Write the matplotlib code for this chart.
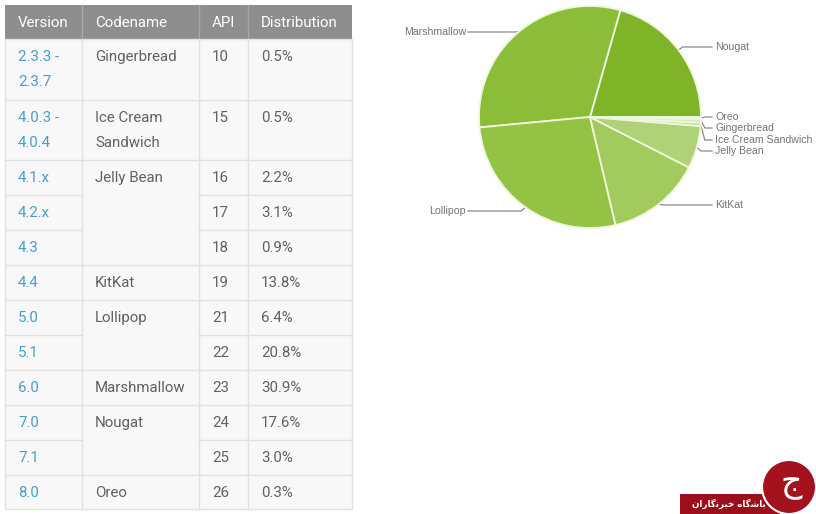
import matplotlib.pyplot as plt
from matplotlib.patches import Rectangle, Circle
import numpy as np

# table data
versions = ['2.3.3 -\n2.3.7', '4.0.3 -\n4.0.4', '4.1.x', '4.2.x', '4.3', '4.4',
            '5.0', '5.1', '6.0', '7.0', '7.1', '8.0']
codenames = ['Gingerbread', 'Ice Cream\nSandwich', 'Jelly Bean', '', '', 'KitKat',
             'Lollipop', '', 'Marshmallow', 'Nougat', '', 'Oreo']
apis = [10, 15, 16, 17, 18, 19, 21, 22, 23, 24, 25, 26]
dist = [0.5, 0.5, 2.2, 3.1, 0.9, 13.8, 6.4, 20.8, 30.9, 17.6, 3.0, 0.3]
headers = ['Version', 'Codename', 'API', 'Distribution']

# pie order, counter-clockwise from 3 o'clock
pie_order = ['Nougat', 'Marshmallow', 'Lollipop', 'KitKat', 'Jelly Bean',
             'Ice Cream Sandwich', 'Gingerbread', 'Oreo']
pie_colors = ['#7fb429', '#8bbd38', '#94c245', '#a2ca5c', '#b0d277',
              '#c4de9a', '#d4e8b5', '#e2f0cc']

# group distribution by codename (blank = same as row above)
groups = []
for c in codenames:
    groups.append(c.replace('\n', ' ') if c else groups[-1])
totals = {}
for g, d in zip(groups, dist):
    totals[g] = totals.get(g, 0) + d
pie_vals = [totals[n] for n in pie_order]

# layout (pixels)
col_x = [5, 82, 199, 248, 352]
row_y = [39, 100, 160, 195, 230, 265, 300, 335, 370, 405, 440, 475, 509]
head_top = 5
cx, cy, r = 590, 117, 111
label_y = {'Nougat': 47, 'Marshmallow': 32, 'Lollipop': 211, 'KitKat': 205,
           'Jelly Bean': 151, 'Ice Cream Sandwich': 140, 'Gingerbread': 128, 'Oreo': 117}

fig = plt.figure(figsize=(8.16, 5.14), dpi=100)
ax = fig.add_axes([0, 0, 1, 1])
ax.set_xlim(0, 816)
ax.set_ylim(514, 0)
ax.axis('off')

font = 'Roboto'
line_c = '#e1e1e1'

# header
ax.add_patch(Rectangle((col_x[0], head_top), col_x[-1] - col_x[0], row_y[0] - head_top,
                       fc='#8e8e8e', ec='none'))
for x in col_x[1:-1]:
    ax.plot([x, x], [head_top, row_y[0]], color='#a6a6a6', lw=1)
for i, h in enumerate(headers):
    ax.text(col_x[i] + 13, (head_top + row_y[0]) / 2 + 1, h, color='white',
            fontsize=10.8, family=font, va='center', ha='left')

# body
ax.add_patch(Rectangle((col_x[0], row_y[0]), col_x[-1] - col_x[0], row_y[-1] - row_y[0],
                       fc='#f8f8f8', ec=line_c, lw=1))
for x in col_x[1:-1]:
    ax.plot([x, x], [row_y[0], row_y[-1]], color=line_c, lw=1)
for k in range(1, len(versions)):
    y = row_y[k]
    for c in range(4):
        if c == 1 and codenames[k] == '':
            continue
        ax.plot([col_x[c], col_x[c + 1]], [y, y], color=line_c, lw=1)

cols = [versions, codenames, [str(a) for a in apis], ['%.1f%%' % d for d in dist]]
col_colors = ['#4a9dcb', '#616161', '#616161', '#616161']
for c, vals in enumerate(cols):
    for k, v in enumerate(vals):
        for j, line in enumerate(v.split('\n')):
            if not line:
                continue
            ax.text(col_x[c] + 13, row_y[k] + 18 + 25 * j, line, color=col_colors[c],
                    fontsize=10.8, family=font, va='center', ha='left')

# pie
pax = fig.add_axes([(cx - r) / 816, 1 - (cy + r) / 514, 2 * r / 816, 2 * r / 514])
wedges, _ = pax.pie(pie_vals, colors=pie_colors, startangle=0, counterclock=True,
                    wedgeprops=dict(edgecolor='#eef7de', linewidth=1.3))
pax.set_xlim(-1, 1)
pax.set_ylim(-1, 1)
pax.axis('off')

for w, name in zip(wedges, pie_order):
    mid = np.deg2rad((w.theta1 + w.theta2) / 2)
    ex, ey = cx + r * np.cos(mid), cy - r * np.sin(mid)
    ly = label_y[name]
    if np.cos(mid) >= 0:
        tx = 715
        ax.plot([ex, ex + 4, tx - 3], [ey, ly, ly], color='#8a8a8a', lw=0.9)
        ax.text(tx, ly, name, fontsize=7.6, color='#737373', family='Liberation Sans',
                va='center', ha='left')
    else:
        tx = 466
        ax.plot([ex, ex - 4, tx + 2], [ey, ly, ly], color='#8a8a8a', lw=0.9)
        ax.text(tx, ly, name, fontsize=7.6, color='#737373', family='Liberation Sans',
                va='center', ha='right')

# watermark
ax.add_patch(Rectangle((680, 494), 100, 22, fc='#9c0e19', ec='none', zorder=5))
ax.add_patch(Circle((789, 487), 27, fc='#a3121d', ec='white', lw=1.5, zorder=6))
wm = ('\uFEE5\uFE8D\uFEAD\uFE8E\uFB94\uFEE7\uFEAE\uFE92\uFEA7 '
      '\uFEE9\uFE8E\uFB94\uFEB7\uFE8E\uFE91')
ax.text(729, 504, wm, color='white', fontsize=6.3, family='DejaVu Sans', weight='bold',
        ha='center', va='center', zorder=7)
ax.text(791, 484, '\uFE9D', color='white', fontsize=24, family='DejaVu Sans',
        ha='center', va='center', zorder=7)

fig.savefig('out.png', dpi=100, facecolor='white')
